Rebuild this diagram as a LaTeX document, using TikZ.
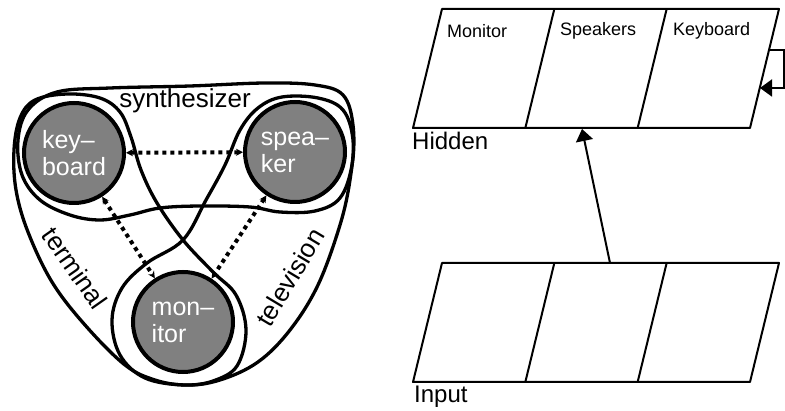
\documentclass[tikz,border=0pt]{standalone}
\usepackage{fontspec}
\setmainfont{Liberation Sans}
\usetikzlibrary{arrows.meta}
\definecolor{devgray}{gray}{0.5}

\begin{document}
\begin{tikzpicture}[x=1pt, y=-1pt,
  device/.style = {shape=circle, draw, line width=4pt,
    fill=devgray, text=white, minimum size=100pt, inner sep=0pt,
    align=left, font=\fontsize{25}{27}\selectfont},
  setline/.style = {line width=3.3pt, line join=round},
  setlabel/.style = {font=\fontsize{26}{28}\selectfont, inner sep=0pt},
  link/.style = {line width=4pt, dash pattern=on 4pt off 4pt,
    {Stealth[length=7pt,width=7pt]}-{Stealth[length=7pt,width=7pt]}},
  layer/.style = {line width=2pt, line join=round},
  unitlabel/.style = {font=\fontsize{18}{20}\selectfont, anchor=west, inner sep=0pt},
  layerlabel/.style = {font=\fontsize{24}{26}\selectfont, anchor=base west, inner sep=0pt},
  feed/.style = {line width=2pt, -{Triangle[length=12pt,width=17pt]}}]
  \useasboundingbox (0,0) rectangle (785,411);

  % the three overlapping sets
  \draw[setline] plot[smooth cycle, tension=0.6] coordinates {
    (57,92) (110,88) (190,86) (265,83) (315,85) (343,95) (353,125)
    (352,165) (340,198) (315,211) (280,212) (250,207) (200,206)
    (160,208) (130,215) (100,220) (70,215) (40,200) (22,175)
    (18,140) (28,110)};
  \draw[setline] plot[smooth cycle, tension=0.6] coordinates {
    (67,94) (100,98) (120,112) (131,137) (141,170) (157,203)
    (183,240) (213,272) (236,295) (246,330) (237,366) (213,381)
    (185,385) (155,380) (125,365) (85,325) (52,282) (28,232)
    (16,190) (14,150) (20,118) (35,100)};
  \draw[setline] plot[smooth cycle, tension=0.6] coordinates {
    (282,97) (318,98) (343,110) (353,140) (350,180) (340,225)
    (318,285) (290,330) (258,362) (220,380) (185,385) (145,378)
    (120,355) (112,320) (122,288) (147,263) (183,240) (206,200)
    (225,165) (240,130) (258,108)};
  \node[setlabel] (lbl-syn) at (185,101) {synthesizer};
  \node[setlabel, rotate=-55] (lbl-term) at (75,268) {terminal};
  \node[setlabel, rotate=59] (lbl-tv) at (290,277) {television};

  % devices
  \node[device] (kbd) at (74,153) {key--\\board};
  \node[device] (spk) at (295,152) {spea--\\ker};
  \node[device] (mon) at (183,322) {mon--\\itor};
  \draw[link] (kbd) -- (spk);
  \draw[link] (kbd) -- (mon);
  \draw[link] (spk) -- (mon);

  % hidden and input layers
  \foreach \top in {9,263} {
    \draw[layer] (442,\top) -- (779,\top) -- ++(-29,119) -- (413,\top+119) -- cycle;
    \foreach \i in {1,2}
      \draw[layer] (442+112.33*\i,\top) -- ++(-29,119);
  }
  \node[unitlabel] (lbl-mon) at (447,31) {Monitor};
  \node[unitlabel] (lbl-spk) at (560,31) {Speakers};
  \node[unitlabel] (lbl-kbd) at (673,31) {Keyboard};
  \node[layerlabel] (lbl-hid) at (412,150) {Hidden};
  \node[layerlabel] (lbl-inp) at (414,403) {Input};

  \coordinate (inp-top) at (610,263);
  \coordinate (hid-bot) at (582,129);
  \coordinate (hid-out) at (770,50);
  \coordinate (hid-in) at (760,88);
  \draw[feed] (inp-top) -- (hid-bot);
  \draw[feed] (hid-out) -- (784,50) |- (hid-in);
\end{tikzpicture}
\end{document}
